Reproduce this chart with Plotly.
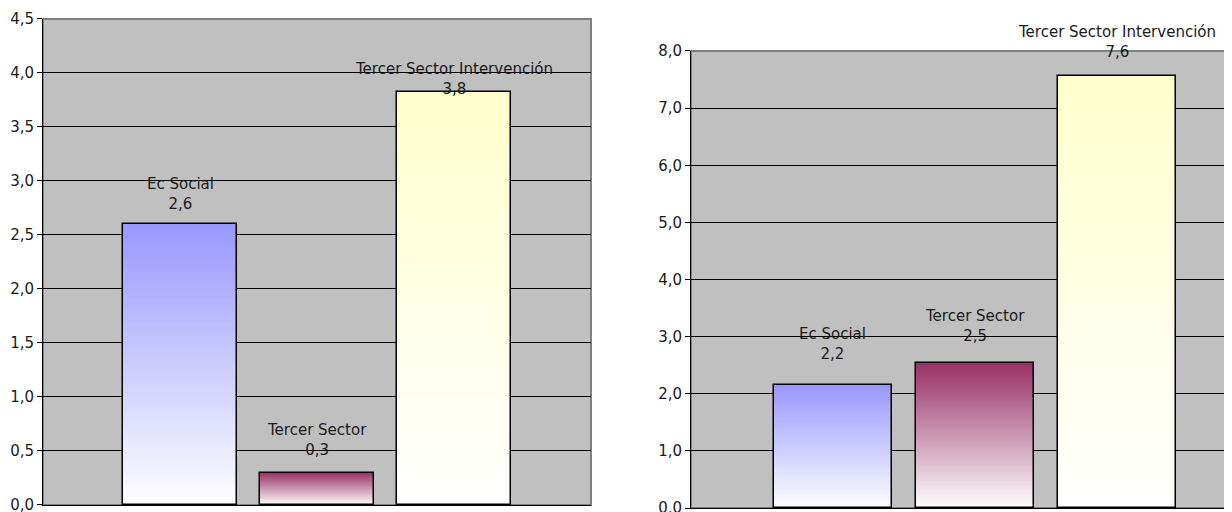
import plotly.graph_objects as go
from plotly.subplots import make_subplots

# data
categories = ["Ec Social", "Tercer Sector", "Tercer Sector Intervención"]
values_left = [2.6, 0.3, 3.82]
values_right = [2.15, 2.53, 7.56]
value_labels_left = ["2,6", "0,3", "3,8"]
value_labels_right = ["2,2", "2,5", "7,6"]

top_colors = [(153, 153, 255), (153, 51, 102), (255, 255, 204)]
label_shift_left = [9, 12, -8]
label_shift_right = [20, 16, 13]

FONT = "DejaVu Sans"
N_STEPS = 80

# the page body adds an 8px margin, so the figure is 8px smaller than the window
W, H = 1224, 504

fig = make_subplots(rows=1, cols=2)


def mix(c, t):
    # t=1 -> top colour, t=0 -> white
    r, g, b = (round(255 + (ch - 255) * t) for ch in c)
    return f"rgb({r},{g},{b})"


def add_bars(col, values):
    for cat, v, c in zip(categories, values, top_colors):
        heights = [v * (N_STEPS - k) / N_STEPS for k in range(N_STEPS)]
        colors = [mix(c, (N_STEPS - k) / N_STEPS) for k in range(N_STEPS)]
        fig.add_trace(
            go.Bar(
                x=[cat] * N_STEPS,
                y=heights,
                marker=dict(color=colors, line=dict(width=0)),
                width=0.834,
                hoverinfo="skip",
                showlegend=False,
            ),
            row=1,
            col=col,
        )
    fig.add_trace(
        go.Bar(
            x=categories,
            y=values,
            marker=dict(color="rgba(0,0,0,0)", line=dict(color="black", width=1.5)),
            width=0.834,
            showlegend=False,
        ),
        row=1,
        col=col,
    )


add_bars(1, values_left)
add_bars(2, values_right)

for xr, yr, values, labels, shifts in [
    ("x", "y", values_left, value_labels_left, label_shift_left),
    ("x2", "y2", values_right, value_labels_right, label_shift_right),
]:
    for cat, v, lab, s in zip(categories, values, labels, shifts):
        fig.add_annotation(
            x=cat, y=v, xref=xr, yref=yr,
            text=f"{cat}<br>{lab}",
            showarrow=False, yanchor="bottom", yshift=s,
            font=dict(family=FONT, size=15, color="#1a1a1a"),
        )
    fig.add_shape(
        type="rect", xref=f"{xr} domain", yref=f"{yr} domain",
        x0=0, x1=1, y0=0, y1=1, line=dict(color="#808080", width=2), layer="below",
    )

axis_common = dict(
    showline=True, linecolor="black", linewidth=1,
    gridcolor="black", gridwidth=1,
    ticks="outside", ticklen=5, tickcolor="black",
    tickformat=".1f", tickfont=dict(family=FONT, size=15, color="#1a1a1a"),
    zeroline=False, automargin=False, ticklabeloverflow="allow",
)
fig.update_xaxes(showticklabels=False, showline=True, linecolor="black",
                 ticks="", showgrid=False, zeroline=False, automargin=False)
fig.update_xaxes(domain=[0.0286, 0.4763], range=[-1, 3], row=1, col=1)
fig.update_xaxes(domain=[0.5580, 1.0], range=[-1, 2.81], row=1, col=2)
fig.update_yaxes(**axis_common)
fig.update_yaxes(domain=[0.0139, 0.9782], range=[0, 4.5], dtick=0.5, row=1, col=1)
fig.update_yaxes(domain=[0.0079, 0.9147], range=[0, 8], dtick=1, row=1, col=2)

fig.update_layout(
    width=W, height=H, autosize=False,
    margin=dict(l=0, r=0, t=0, b=0),
    barmode="overlay", bargap=0,
    separators=",.",
    plot_bgcolor="#C0C0C0", paper_bgcolor="white",
    font=dict(family=FONT, size=15),
)

fig.write_html("out.html")
